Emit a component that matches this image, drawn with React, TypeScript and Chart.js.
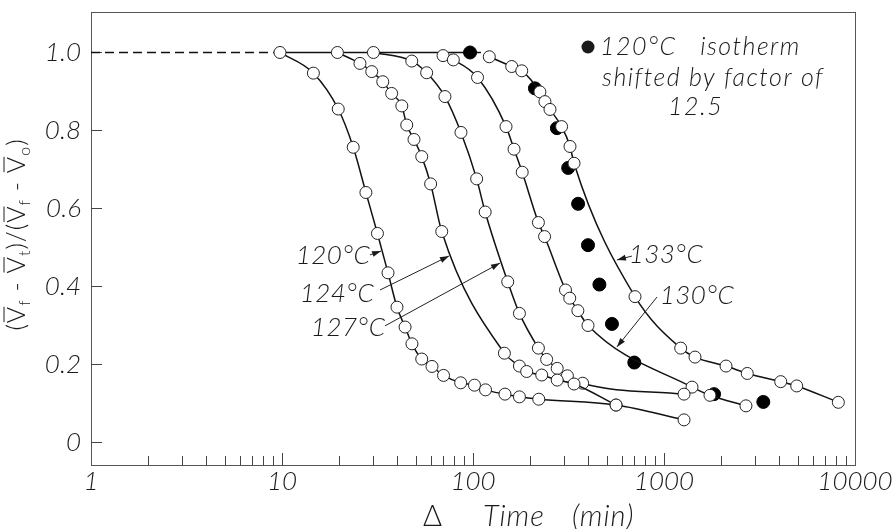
import React, { useEffect, useRef } from "react";
import { Chart, registerables } from "chart.js";
Chart.register(...registerables);

// ---- data (Δ time in min, normalized volume fraction) ----
const t120X = [9.76, 14.6, 19.7, 23.6, 27.5, 31.6, 35.9, 40.0, 44.1, 47.9, 53.9, 61.0, 70.1, 86.2, 101.8, 116.3, 147, 175, 221, 561, 1273];
const t120Y = [1.0, 0.947, 0.855, 0.757, 0.641, 0.536, 0.435, 0.347, 0.296, 0.253, 0.214, 0.195, 0.172, 0.153, 0.147, 0.135, 0.124, 0.117, 0.111, 0.096, 0.058];

const t124X = [19.5, 25.6, 29.5, 33.7, 37.5, 42.4, 45.0, 49.1, 53.9, 60.0, 68.6, 146, 175, 191, 229, 276, 338, 561];
const t124Y = [1.0, 0.972, 0.951, 0.925, 0.895, 0.863, 0.814, 0.777, 0.733, 0.663, 0.541, 0.229, 0.196, 0.182, 0.173, 0.160, 0.150, 0.096];

const t127X = [30.1, 47.8, 57.2, 71.3, 86.5, 104.5, 115.8, 152, 175, 220, 243, 276, 312, 375, 1273];
const t127Y = [1.0, 0.978, 0.948, 0.887, 0.795, 0.676, 0.591, 0.412, 0.331, 0.242, 0.213, 0.190, 0.171, 0.152, 0.124];

const t130X = [69.7, 78.9, 105.6, 148.9, 164, 181, 220, 237, 305, 321, 354, 400, 1402, 1741, 2686];
const t130Y = [0.992, 0.981, 0.936, 0.810, 0.752, 0.693, 0.564, 0.528, 0.391, 0.370, 0.338, 0.300, 0.142, 0.121, 0.094];

const t133X = [121.7, 159.5, 180, 224, 238, 253, 291, 322, 338, 705, 1223, 1453, 2112, 2729, 4083, 4953, 8180];
const t133Y = [0.989, 0.964, 0.953, 0.899, 0.874, 0.854, 0.810, 0.759, 0.716, 0.374, 0.242, 0.219, 0.196, 0.177, 0.156, 0.145, 0.103];

// 120°C isotherm shifted by factor 12.5 (filled)
const shiftX = [96.5, 211, 275, 315, 355, 400, 459, 534, 699, 1828, 3311];
const shiftY = [1.0, 0.908, 0.806, 0.704, 0.612, 0.506, 0.405, 0.304, 0.205, 0.124, 0.104];

// plateau at 1.0
const plateauDashX = [1, 9.4];
const plateauSolidX = [9.76, 110];
const plateauY = 1.0;

// ticks
const xTickValues = [1, 10, 100, 1000, 10000];
const xTickLabels = ["1", "10", "100", "1000", "10000"];
const yTickValues = [0, 0.2, 0.4, 0.6, 0.8, 1.0];
const yTickLabels = ["0", "0.2", "0.4", "0.6", "0.8", "1.0"];
const minorMultipliers = [2, 3, 4, 5, 6, 7, 8, 9];

// annotations (data coordinates)
const curveLabels = [
  { text: "120°C", tx: 18.5, ty: 0.478, from: [28.9, 0.481], to: [33.0, 0.491] },
  { text: "124°C", tx: 19.4, ty: 0.383, from: [32.6, 0.391], to: [74.8, 0.478] },
  { text: "127°C", tx: 22.2, ty: 0.294, from: [34.6, 0.299], to: [138.4, 0.460] },
  { text: "133°C", tx: 1024, ty: 0.481, from: [679, 0.478], to: [567, 0.468] },
  { text: "130°C", tx: 1489, ty: 0.376, from: [919, 0.373], to: [567, 0.245] },
];
const legendLines = [
  { text: "120°C   isotherm", x: 462, y: 1.013 },
  { text: "shifted by factor of", x: 474, y: 0.935 },
  { text: "12.5", x: 1050, y: 0.86 },
];
const legendDot = { x: 400, y: 1.014 };

const FAMILY = "Lato, 'Open Sans', 'DejaVu Sans', sans-serif";
const INK = "#1a1a1a";

const toPts = (xs: number[], ys: number[]) => xs.map((x, i) => ({ x, y: ys[i] }));

function arrow(ctx: CanvasRenderingContext2D, x1: number, y1: number, x2: number, y2: number) {
  ctx.beginPath();
  ctx.moveTo(x1, y1);
  ctx.lineTo(x2, y2);
  ctx.stroke();
  const ang = Math.atan2(y2 - y1, x2 - x1);
  const L = 9, W = 3;
  ctx.beginPath();
  ctx.moveTo(x2, y2);
  ctx.lineTo(x2 - L * Math.cos(ang) + W * Math.sin(ang), y2 - L * Math.sin(ang) - W * Math.cos(ang));
  ctx.lineTo(x2 - L * Math.cos(ang) - W * Math.sin(ang), y2 - L * Math.sin(ang) + W * Math.cos(ang));
  ctx.closePath();
  ctx.fill();
}

const decorPlugin = {
  id: "decor",
  beforeDatasetsDraw(chart: any) {
    const { ctx, chartArea: a, scales } = chart;
    const xs = scales.x, ys = scales.y;
    ctx.save();
    ctx.strokeStyle = "#555";
    ctx.lineWidth = 1;
    ctx.strokeRect(Math.round(a.left) + 0.5, Math.round(a.top) + 0.5, Math.round(a.right - a.left), Math.round(a.bottom - a.top));
    ctx.strokeStyle = "#444";
    for (const v of yTickValues) {
      const py = Math.round(ys.getPixelForValue(v)) + 0.5;
      ctx.beginPath();
      ctx.moveTo(a.left, py);
      ctx.lineTo(a.left + 11, py);
      ctx.stroke();
    }
    for (let d = 0; d < xTickValues.length - 1; d++) {
      const base = xTickValues[d];
      for (const m of minorMultipliers) {
        const px = Math.round(xs.getPixelForValue(base * m)) + 0.5;
        ctx.beginPath();
        ctx.moveTo(px, a.bottom);
        ctx.lineTo(px, a.bottom - 9);
        ctx.stroke();
      }
      if (d > 0) {
        const px = Math.round(xs.getPixelForValue(base)) + 0.5;
        ctx.beginPath();
        ctx.moveTo(px, a.bottom);
        ctx.lineTo(px, a.bottom - 12);
        ctx.stroke();
      }
    }
    ctx.restore();
  },
  afterDraw(chart: any) {
    const { ctx, chartArea: a, scales } = chart;
    const xs = scales.x, ys = scales.y;
    const X = (v: number) => xs.getPixelForValue(v);
    const Y = (v: number) => ys.getPixelForValue(v);
    ctx.save();
    ctx.fillStyle = INK;
    ctx.strokeStyle = "#222";
    ctx.lineWidth = 1;

    // curve labels with arrows
    ctx.font = `italic 300 26px ${FAMILY}`;
    ctx.textAlign = "center";
    ctx.textBaseline = "middle";
    (ctx as any).letterSpacing = "0.5px";
    for (const c of curveLabels) {
      ctx.fillText(c.text, X(c.tx), Y(c.ty));
      arrow(ctx, X(c.from[0]), Y(c.from[1]), X(c.to[0]), Y(c.to[1]));
    }

    // legend note
    ctx.beginPath();
    ctx.arc(X(legendDot.x), Y(legendDot.y), 6.5, 0, Math.PI * 2);
    ctx.fill();
    ctx.textAlign = "left";
    ctx.font = `italic 300 25px ${FAMILY}`;
    (ctx as any).letterSpacing = "1.5px";
    for (const l of legendLines) ctx.fillText(l.text, X(l.x), Y(l.y));

    // x title
    const cx = (a.left + a.right) / 2;
    ctx.textBaseline = "alphabetic";
    (ctx as any).letterSpacing = "1px";
    ctx.font = `300 29px ${FAMILY}`;
    ctx.fillText("Δ", cx - 50, 526);
    ctx.font = `italic 300 29px ${FAMILY}`;
    ctx.fillText("Time", cx + 10, 526);
    ctx.fillText("(min)", cx + 99, 526);

    // y title (rotated, with overbars and subscripts)
    const size = 25;
    (ctx as any).letterSpacing = "1px";
    const segs = [
      { t: "(" }, { t: "V", bar: true }, { t: "f", sub: true }, { t: " - " }, { t: "V", bar: true }, { t: "t", sub: true },
      { t: ")/(" }, { t: "V", bar: true }, { t: "f", sub: true }, { t: " - " }, { t: "V", bar: true }, { t: "o", sub: true }, { t: ")" },
    ];
    const fontFor = (s: any) => (s.sub ? `300 ${Math.round(size * 0.62)}px ${FAMILY}` : `300 ${size}px ${FAMILY}`);
    let total = 0;
    const widths = segs.map((s) => {
      ctx.font = fontFor(s);
      const w = ctx.measureText(s.t).width;
      total += w;
      return w;
    });
    ctx.save();
    ctx.translate(25, (a.top + a.bottom) / 2 - 4);
    ctx.rotate(-Math.PI / 2);
    let u = -total / 2;
    segs.forEach((s: any, i) => {
      ctx.font = fontFor(s);
      ctx.fillText(s.t, u, s.sub ? 5 : 0);
      if (s.bar) {
        ctx.beginPath();
        ctx.moveTo(u + 1, -size * 0.72 - 3);
        ctx.lineTo(u + widths[i] - 1, -size * 0.72 - 3);
        ctx.stroke();
      }
      u += widths[i];
    });
    ctx.restore();
    ctx.restore();
  },
};

function lineSet(xs: number[], ys: number[], label: string) {
  return {
    label,
    data: toPts(xs, ys),
    borderColor: "#111",
    borderWidth: 1.5,
    pointRadius: 6,
    pointBackgroundColor: "#fff",
    pointBorderColor: "#222",
    pointBorderWidth: 1,
    cubicInterpolationMode: "monotone",
    fill: false,
    order: 1,
  };
}

export default function App() {
  const ref = useRef<HTMLCanvasElement | null>(null);
  useEffect(() => {
    document.body.style.margin = "0";
    const canvas = ref.current!;
    const chart = new Chart(canvas, {
      type: "line",
      data: {
        datasets: [
          lineSet(t120X, t120Y, "120°C"),
          lineSet(t124X, t124Y, "124°C"),
          lineSet(t127X, t127Y, "127°C"),
          lineSet(t130X, t130Y, "130°C"),
          lineSet(t133X, t133Y, "133°C"),
          {
            label: "120°C shifted",
            data: toPts(shiftX, shiftY),
            showLine: false,
            pointRadius: 6.5,
            pointBackgroundColor: "#000",
            pointBorderColor: "#000",
            order: 3,
          },
          {
            label: "plateau dashed",
            data: plateauDashX.map((x) => ({ x, y: plateauY })),
            borderColor: "#111",
            borderWidth: 1.3,
            borderDash: [9, 5],
            pointRadius: 0,
            order: 5,
          },
          {
            label: "plateau",
            data: plateauSolidX.map((x) => ({ x, y: plateauY })),
            borderColor: "#111",
            borderWidth: 1.5,
            pointRadius: 0,
            order: 5,
          },
        ] as any,
      },
      options: {
        animation: false,
        responsive: false,
        devicePixelRatio: 1,
        events: [],
        layout: { padding: { top: 12, right: 37, left: 0, bottom: 0 } },
        plugins: { legend: { display: false }, tooltip: { enabled: false } },
        scales: {
          x: {
            type: "logarithmic",
            min: 1,
            max: 10000,
            grid: { display: false, drawTicks: false },
            border: { display: false },
            afterBuildTicks: (s: any) => { s.ticks = xTickValues.map((v) => ({ value: v })); },
            afterFit: (s: any) => { s.height = 64; s.paddingLeft = 0; s.paddingRight = 0; },
            ticks: {
              autoSkip: false,
              maxRotation: 0,
              padding: 1,
              color: INK,
              font: { family: FAMILY, size: 26, style: "italic", weight: 300 },
              callback: (v: any) => { const i = xTickValues.indexOf(Number(v)); return i >= 0 ? xTickLabels[i] : ""; },
            },
          },
          y: {
            type: "linear",
            min: -0.0577,
            max: 1.1038,
            grid: { display: false, drawTicks: false },
            border: { display: false },
            afterBuildTicks: (s: any) => { s.ticks = yTickValues.map((v) => ({ value: v })); },
            afterFit: (s: any) => { s.width = 91; s.paddingTop = 0; s.paddingBottom = 0; },
            ticks: {
              padding: 10,
              color: INK,
              font: { family: FAMILY, size: 26, style: "italic", weight: 300 },
              callback: (v: any) => { const i = yTickValues.findIndex((t) => Math.abs(t - Number(v)) < 1e-6); return i >= 0 ? yTickLabels[i] : ""; },
            },
          },
        },
      } as any,
      plugins: [decorPlugin],
    });
    return () => chart.destroy();
  }, []);
  return (
    <div style={{ width: 892, height: 529, background: "#fff" }}>
      <canvas ref={ref} width={892} height={529} style={{ display: "block" }} />
    </div>
  );
}
